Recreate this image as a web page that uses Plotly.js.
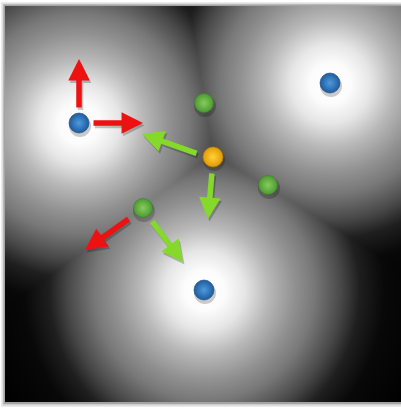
<!DOCTYPE html>
<html>
<head>
<meta charset="utf-8">
<script src="https://cdn.plot.ly/plotly-3.0.1.min.js"></script>
<style>html,body{margin:0;padding:0;background:#fff;}#chart{width:401px;height:408px;}</style>
</head>
<body>
<div id="chart"></div>
<script>
// Sites (pixel-space coordinates)
const blueX = [79, 330, 204];
const blueY = [123, 83, 290];
const greenX = [204, 268, 143];
const greenY = [103, 185, 208];
const yellowX = [213];
const yellowY = [157];

// Arrows: tail -> tip
const redTailX = [79, 92, 130];
const redTailY = [109, 123, 218];
const redTipX = [79, 143, 85];
const redTipY = [59, 123, 250];
const greenTailX = [198, 212, 151];
const greenTailY = [154, 172, 220];
const greenTipX = [142, 208, 183];
const greenTipY = [134, 219, 262];

// Field extent
const fieldX = [5, 401];
const fieldY = [6, 402];
const profileDist = [0, 20, 40, 64, 90, 110, 137, 155, 180, 230];
const profileGray = [1.0, 0.99, 0.9, 0.72, 0.57, 0.47, 0.28, 0.12, 0.03, 0.0];

const dMax = profileDist[profileDist.length - 1];
const colorscale = profileDist.map((d, i) => {
  const g = Math.round(profileGray[i] * 255);
  return [d / dMax, `rgb(${g},${g},${g})`];
});

// Background: distance to the nearest blue site
const gx = [], gy = [], gz = [];
for (let x = fieldX[0] + 1; x <= fieldX[1]; x += 2) gx.push(x);
for (let y = fieldY[0] + 1; y <= fieldY[1]; y += 2) gy.push(y);
for (const y of gy) {
  const row = [];
  for (const x of gx) {
    let d = Infinity;
    for (let i = 0; i < blueX.length; i++) {
      d = Math.min(d, Math.hypot(x - blueX[i], y - blueY[i]));
    }
    row.push(Math.min(d, dMax));
  }
  gz.push(row);
}

const traces = [
  {type: 'heatmap', x: gx, y: gy, z: gz, zmin: 0, zmax: dMax, zsmooth: 'best',
   colorscale: colorscale, showscale: false, hoverinfo: 'skip'},
  // sphere shadows
  {type: 'scatter', mode: 'markers', hoverinfo: 'skip',
   x: blueX.concat(greenX, yellowX).map(v => v + 1),
   y: blueY.concat(greenY, yellowY).map(v => v + 3),
   marker: {size: 22, color: 'rgba(0,0,0,0.2)', line: {width: 0}}},
  {type: 'scatter', mode: 'markers', x: blueX, y: blueY, hoverinfo: 'skip',
   marker: {size: 20, color: '#1d5c9e', gradient: {type: 'radial', color: '#4f9ade'},
            line: {width: 0.6, color: '#174a80'}}},
  {type: 'scatter', mode: 'markers', x: greenX, y: greenY, hoverinfo: 'skip',
   marker: {size: 19, color: '#4c9a32', gradient: {type: 'radial', color: '#86cc5c'},
            line: {width: 0.6, color: '#3e7e2a'}}},
  {type: 'scatter', mode: 'markers', x: yellowX, y: yellowY, hoverinfo: 'skip',
   marker: {size: 20, color: '#e39a00', gradient: {type: 'radial', color: '#ffd23a'},
            line: {width: 0.6, color: '#c08000'}}}
];

const annotations = [];
function addArrows(tx, ty, hx, hy, color, shift) {
  for (let i = 0; i < tx.length; i++) {
    annotations.push({x: hx[i] + shift[0], y: hy[i] + shift[1],
      ax: tx[i] + shift[0], ay: ty[i] + shift[1],
      xref: 'x', yref: 'y', axref: 'x', ayref: 'y', text: '', showarrow: true,
      arrowhead: 2, arrowsize: 0.78, arrowwidth: 5.5, arrowcolor: color, standoff: 0});
  }
}
// soft drop shadows, then the arrows
addArrows(redTailX, redTailY, redTipX, redTipY, 'rgba(0,0,0,0.22)', [1.5, 2.5]);
addArrows(greenTailX, greenTailY, greenTipX, greenTipY, 'rgba(0,0,0,0.22)', [1.5, 2.5]);
addArrows(redTailX, redTailY, redTipX, redTipY, '#ee1111', [0, 0]);
addArrows(greenTailX, greenTailY, greenTipX, greenTipY, '#84d92a', [0, 0]);

const layout = {
  width: 401, height: 408, autosize: false,
  margin: {l: 0, r: 0, t: 0, b: 0, pad: 0},
  paper_bgcolor: '#ffffff', plot_bgcolor: '#ffffff',
  showlegend: false,
  xaxis: {range: [0, 401], visible: false, fixedrange: true},
  yaxis: {range: [408, 0], visible: false, fixedrange: true},
  shapes: [
    {type: 'rect', layer: 'below', x0: 1, x1: 402, y0: 2, y1: 407, line: {width: 0}, fillcolor: 'rgba(0,0,0,0.08)'},
    {type: 'rect', layer: 'below', x0: 2.5, x1: 402, y0: 3.5, y1: 405.5, line: {width: 0}, fillcolor: 'rgba(0,0,0,0.12)'},
    {type: 'rect', layer: 'below', x0: 3.5, x1: 402, y0: 4.5, y1: 404, line: {width: 0}, fillcolor: 'rgba(0,0,0,0.2)'}
  ],
  annotations: annotations
};

Plotly.newPlot('chart', traces, layout, {displayModeBar: false, staticPlot: true});
</script>
</body>
</html>
